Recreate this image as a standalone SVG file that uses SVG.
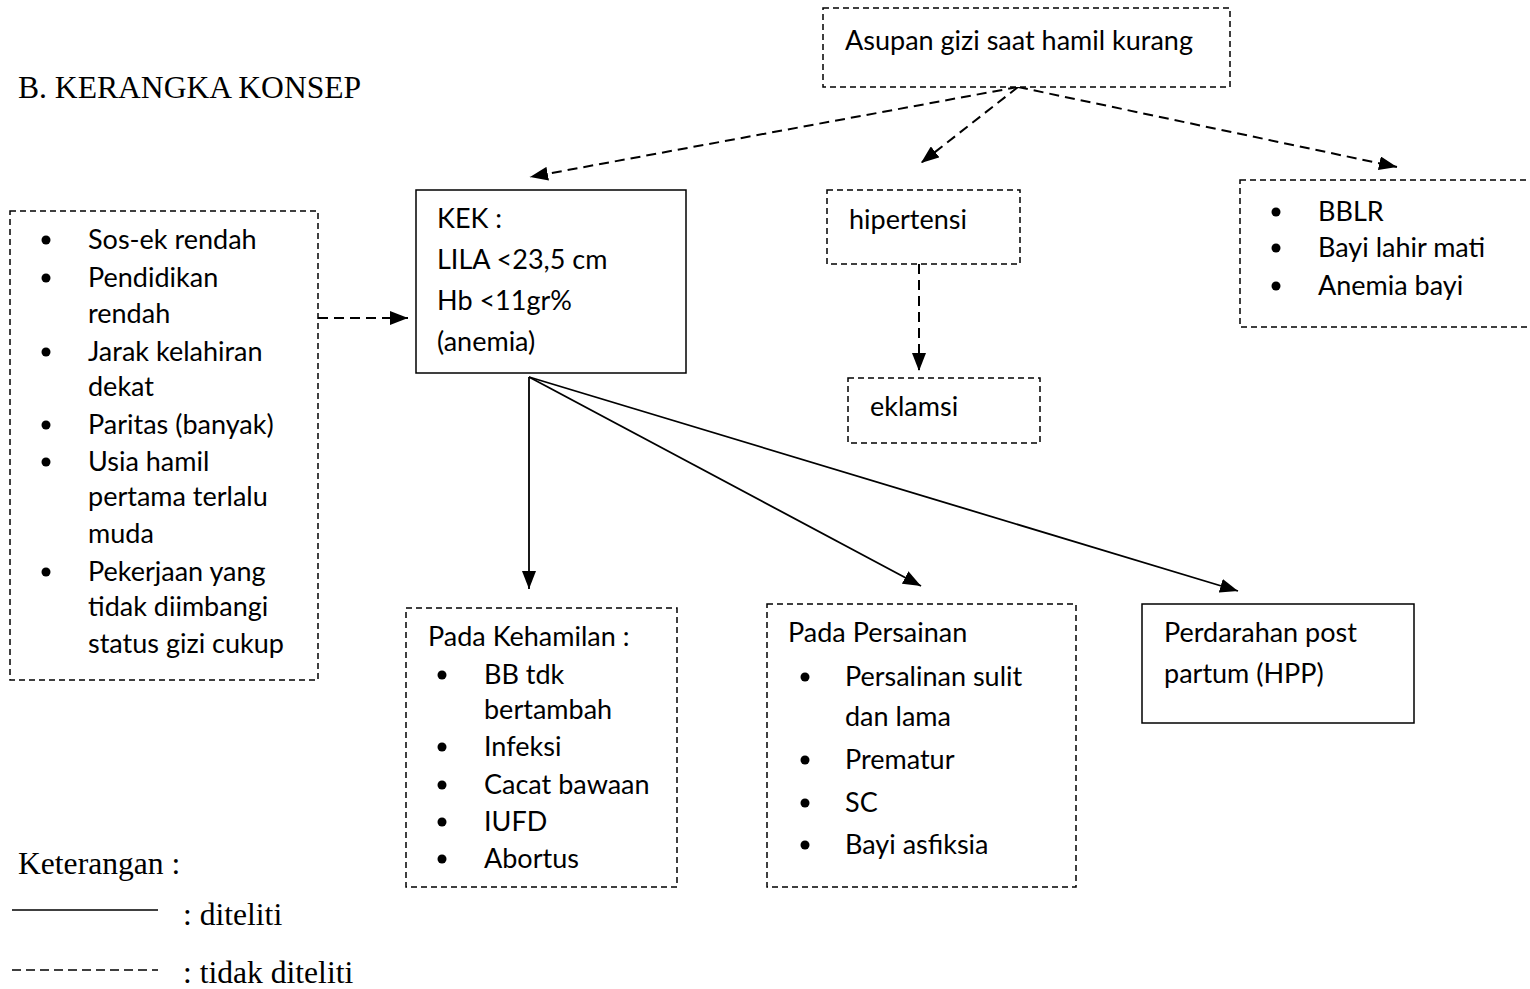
<svg xmlns="http://www.w3.org/2000/svg" width="1530" height="989" viewBox="0 0 1530 989">
<style>
.t{font-family:Lato,"Open Sans","Liberation Sans",sans-serif;font-size:27px;fill:#000}
.s{font-family:"Liberation Serif","Times New Roman",serif;font-size:31.6px;fill:#000}
.db{fill:#fff;stroke:#000;stroke-width:1.5;stroke-dasharray:6 4}
.sb{fill:#fff;stroke:#000;stroke-width:1.5}
.da{fill:none;stroke:#000;stroke-width:2;stroke-dasharray:10 6}
.sa{fill:none;stroke:#000;stroke-width:1.8}
</style>
<defs>
<marker id="ah" viewBox="0 0 18 14" refX="18" refY="7" markerWidth="18" markerHeight="14" markerUnits="userSpaceOnUse" orient="auto">
<path d="M0,0 L18,7 L0,14 Z" fill="#000"/>
</marker>
</defs>
<rect width="1530" height="989" fill="#fff"/>
<text class="s" x="18" y="98">B. KERANGKA KONSEP</text>

<g id="connectors">
<line class="da" x1="1018" y1="87" x2="530" y2="177" marker-end="url(#ah)"/>
<line class="da" x1="1018" y1="87" x2="921" y2="163" marker-end="url(#ah)"/>
<line class="da" x1="1018" y1="87" x2="1397" y2="167" marker-end="url(#ah)"/>
<line class="da" x1="919" y1="264" x2="919" y2="371" marker-end="url(#ah)"/>
<line class="da" x1="318" y1="318" x2="408" y2="318" marker-end="url(#ah)"/>
<line class="sa" x1="529" y1="377" x2="529" y2="589" marker-end="url(#ah)"/>
<line class="sa" x1="529" y1="377" x2="921" y2="586" marker-end="url(#ah)"/>
<line class="sa" x1="529" y1="377" x2="1238" y2="591" marker-end="url(#ah)"/>
</g>

<g id="asupan">
<rect class="db" x="823" y="8" width="407" height="79"/>
<text class="t" x="845" y="50">Asupan gizi saat hamil kurang</text>
</g>

<g id="kek">
<rect class="sb" x="416" y="190" width="270" height="183"/>
<text class="t" x="437" y="228">KEK :</text>
<text class="t" x="437" y="269">LILA &lt;23,5 cm</text>
<text class="t" x="437" y="310">Hb &lt;11gr%</text>
<text class="t" x="437" y="351">(anemia)</text>
</g>

<g id="hipertensi">
<rect class="db" x="827" y="190" width="193" height="74"/>
<text class="t" x="849" y="229">hipertensi</text>
</g>

<g id="eklamsi">
<rect class="db" x="848" y="378" width="192" height="65"/>
<text class="t" x="870" y="416">eklamsi</text>
</g>

<g id="bayi">
<rect class="db" x="1240" y="180" width="300" height="147"/>
<circle cx="1276" cy="212" r="4.5"/>
<circle cx="1276" cy="248" r="4.5"/>
<circle cx="1276" cy="286" r="4.5"/>
<text class="t" x="1318" y="221">BBLR</text>
<text class="t" x="1318" y="257">Bayi lahir mati</text>
<text class="t" x="1318" y="295">Anemia bayi</text>
</g>

<g id="faktor">
<rect class="db" x="10" y="211" width="308" height="469"/>
<circle cx="46" cy="240" r="4.5"/>
<circle cx="46" cy="278" r="4.5"/>
<circle cx="46" cy="352" r="4.5"/>
<circle cx="46" cy="425" r="4.5"/>
<circle cx="46" cy="462" r="4.5"/>
<circle cx="46" cy="572" r="4.5"/>
<text class="t" x="88" y="249">Sos-ek rendah</text>
<text class="t" x="88" y="287">Pendidikan</text>
<text class="t" x="88" y="323">rendah</text>
<text class="t" x="88" y="361">Jarak kelahiran</text>
<text class="t" x="88" y="396">dekat</text>
<text class="t" x="88" y="434">Paritas (banyak)</text>
<text class="t" x="88" y="471">Usia hamil</text>
<text class="t" x="88" y="506">pertama terlalu</text>
<text class="t" x="88" y="543">muda</text>
<text class="t" x="88" y="581">Pekerjaan yang</text>
<text class="t" x="88" y="616">tidak diimbangi</text>
<text class="t" x="88" y="653">status gizi cukup</text>
</g>

<g id="kehamilan">
<rect class="db" x="406" y="608" width="271" height="279"/>
<text class="t" x="428" y="646">Pada Kehamilan :</text>
<circle cx="442" cy="675" r="4.5"/>
<circle cx="442" cy="747" r="4.5"/>
<circle cx="442" cy="785" r="4.5"/>
<circle cx="442" cy="822" r="4.5"/>
<circle cx="442" cy="859" r="4.5"/>
<text class="t" x="484" y="684">BB tdk</text>
<text class="t" x="484" y="719">bertambah</text>
<text class="t" x="484" y="756">Infeksi</text>
<text class="t" x="484" y="794">Cacat bawaan</text>
<text class="t" x="484" y="831">IUFD</text>
<text class="t" x="484" y="868">Abortus</text>
</g>

<g id="persalinan">
<rect class="db" x="767" y="604" width="309" height="283"/>
<text class="t" x="788" y="642">Pada Persainan</text>
<circle cx="805" cy="677" r="4.5"/>
<circle cx="805" cy="760" r="4.5"/>
<circle cx="805" cy="803" r="4.5"/>
<circle cx="805" cy="845" r="4.5"/>
<text class="t" x="845" y="686">Persalinan sulit</text>
<text class="t" x="845" y="726">dan lama</text>
<text class="t" x="845" y="769">Prematur</text>
<text class="t" x="845" y="812">SC</text>
<text class="t" x="845" y="854">Bayi asfiksia</text>
</g>

<g id="hpp">
<rect class="sb" x="1142" y="604" width="272" height="119"/>
<text class="t" x="1164" y="642">Perdarahan post</text>
<text class="t" x="1164" y="683">partum (HPP)</text>
</g>

<g id="legend">
<text class="s" x="18" y="874">Keterangan :</text>
<line x1="12" y1="910" x2="158" y2="910" stroke="#000" stroke-width="1.5"/>
<text class="s" x="183" y="925">: diteliti</text>
<line x1="12" y1="970" x2="158" y2="970" stroke="#000" stroke-width="1.5" stroke-dasharray="9 5"/>
<text class="s" x="183" y="983">: tidak diteliti</text>
</g>
</svg>
